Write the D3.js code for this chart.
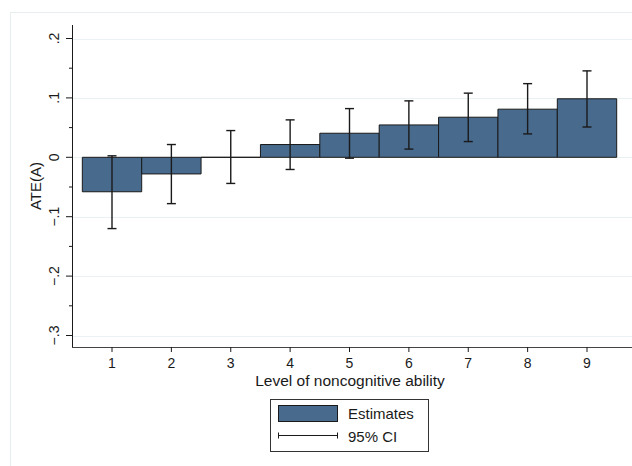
<!DOCTYPE html>
<html>
<head>
<meta charset="utf-8">
<script src="https://cdn.jsdelivr.net/npm/d3@7"></script>
<style>
  html, body { margin: 0; padding: 0; background: #fff; }
  svg { display: block; font-family: "Liberation Sans", Arial, Helvetica, sans-serif; }
</style>
</head>
<body>
<svg id="chart" width="632" height="466"></svg>
<script>
// Treatment effect estimates by level of noncognitive ability
const levels    = [1, 2, 3, 4, 5, 6, 7, 8, 9];
const estimates = [-0.058, -0.028, 0.0, 0.0215, 0.0405, 0.0545, 0.0675, 0.081, 0.0985];
const ciLower   = [-0.120, -0.078, -0.044, -0.0205, -0.0015, 0.0138, 0.0265, 0.0394, 0.051];
const ciUpper   = [0.0025, 0.0215, 0.045, 0.063, 0.082, 0.095, 0.108, 0.124, 0.1455];
const yTicks    = [-0.3, -0.2, -0.1, 0, 0.1, 0.2];
const yMinor    = [-0.25, -0.15, -0.05, 0.05, 0.15];
const yTickLabels = ["\u2212.3", "\u2212.2", "\u2212.1", "0", ".1", ".2"];

const svg = d3.select("#chart");

const barFill = "#476a8d";
const ink = "#1a1a1a";

// outer graph region border
svg.append("rect")
  .attr("x", 10.5).attr("y", 12.5)
  .attr("width", 640).attr("height", 470)
  .attr("fill", "none").attr("stroke", "#e6eef0").attr("stroke-width", 1);

const plot = { left: 72, right: 640, top: 25, bottom: 347 };

const x = d3.scaleLinear().domain([1, 9]).range([112, 587]);
const y = d3.scaleLinear().domain([-0.3, 0.2]).range([335.5, 38.5]);
const halfW = (x(2) - x(1)) / 2;

// gridlines
svg.append("g").selectAll("line")
  .data(yTicks).join("line")
  .attr("x1", plot.left).attr("x2", plot.right)
  .attr("y1", d => Math.round(y(d)) + 0.5).attr("y2", d => Math.round(y(d)) + 0.5)
  .attr("stroke", "#eaf1f2").attr("stroke-width", 1.2);

// bars: drawn as closed outlines so a zero estimate still shows its edge
svg.append("g").selectAll("path")
  .data(levels).join("path")
  .attr("d", (d, i) => {
    const x0 = x(d) - halfW, x1 = x(d) + halfW;
    const y0 = y(0), y1 = y(estimates[i]);
    return `M${x0},${y0}L${x0},${y1}L${x1},${y1}L${x1},${y0}Z`;
  })
  .attr("fill", barFill)
  .attr("stroke", ink).attr("stroke-width", 1);

// confidence intervals
const capW = 4.5;
const ci = svg.append("g").attr("stroke", ink).attr("stroke-width", 1.4);
levels.forEach((d, i) => {
  const cx = x(d);
  ci.append("line").attr("x1", cx).attr("x2", cx)
    .attr("y1", y(ciLower[i])).attr("y2", y(ciUpper[i]));
  ci.append("line").attr("x1", cx - capW).attr("x2", cx + capW)
    .attr("y1", y(ciLower[i])).attr("y2", y(ciLower[i]));
  ci.append("line").attr("x1", cx - capW).attr("x2", cx + capW)
    .attr("y1", y(ciUpper[i])).attr("y2", y(ciUpper[i]));
});

// y axis
const yAxis = svg.append("g");
yAxis.append("line")
  .attr("x1", plot.left + 0.5).attr("x2", plot.left + 0.5)
  .attr("y1", plot.top).attr("y2", plot.bottom)
  .attr("stroke", ink).attr("stroke-width", 1);
yAxis.selectAll("line.major").data(yTicks).join("line").attr("class", "major")
  .attr("x1", plot.left - 6).attr("x2", plot.left)
  .attr("y1", d => y(d)).attr("y2", d => y(d))
  .attr("stroke", ink);
yAxis.selectAll("line.minor").data(yMinor).join("line").attr("class", "minor")
  .attr("x1", plot.left - 3).attr("x2", plot.left)
  .attr("y1", d => y(d)).attr("y2", d => y(d))
  .attr("stroke", ink);
yAxis.selectAll("text").data(yTicks).join("text")
  .attr("transform", d => `translate(${plot.left - 13},${y(d)}) rotate(-90)`)
  .attr("text-anchor", "middle")
  .attr("font-size", 14).attr("fill", ink)
  .text((d, i) => yTickLabels[i]);

svg.append("text")
  .attr("transform", `translate(41,${(plot.top + plot.bottom) / 2}) rotate(-90)`)
  .attr("text-anchor", "middle")
  .attr("font-size", 15).attr("fill", ink)
  .text("ATE(A)");

// x axis
const xAxis = svg.append("g");
xAxis.append("line")
  .attr("x1", plot.left).attr("x2", plot.right)
  .attr("y1", plot.bottom + 0.5).attr("y2", plot.bottom + 0.5)
  .attr("stroke", "#444").attr("stroke-width", 1);
xAxis.selectAll("line.tick").data(levels).join("line").attr("class", "tick")
  .attr("x1", d => x(d)).attr("x2", d => x(d))
  .attr("y1", plot.bottom).attr("y2", plot.bottom + 5)
  .attr("stroke", ink);
xAxis.selectAll("text").data(levels).join("text")
  .attr("x", d => x(d)).attr("y", 367.5)
  .attr("text-anchor", "middle")
  .attr("font-size", 14).attr("fill", ink)
  .text(d => d);

svg.append("text")
  .attr("x", 350).attr("y", 386)
  .attr("text-anchor", "middle")
  .attr("font-size", 15.5).attr("fill", ink)
  .text("Level of noncognitive ability");

// legend
const lg = svg.append("g");
lg.append("rect")
  .attr("x", 270.5).attr("y", 399.5).attr("width", 158).attr("height", 52)
  .attr("fill", "#fff").attr("stroke", "#333").attr("stroke-width", 1);
lg.append("rect")
  .attr("x", 278.5).attr("y", 405.5).attr("width", 59).attr("height", 16)
  .attr("fill", barFill).attr("stroke", ink).attr("stroke-width", 1);
lg.append("text").attr("x", 348).attr("y", 419)
  .attr("font-size", 15).attr("fill", ink).text("Estimates");
lg.append("line").attr("x1", 278).attr("x2", 338).attr("y1", 435.5).attr("y2", 435.5)
  .attr("stroke", ink).attr("stroke-width", 1.2);
lg.append("line").attr("x1", 278.5).attr("x2", 278.5).attr("y1", 432.5).attr("y2", 438.5)
  .attr("stroke", ink).attr("stroke-width", 1);
lg.append("line").attr("x1", 337.5).attr("x2", 337.5).attr("y1", 432.5).attr("y2", 438.5)
  .attr("stroke", ink).attr("stroke-width", 1);
lg.append("text").attr("x", 348).attr("y", 441.5)
  .attr("font-size", 15).attr("fill", ink).text("95% CI");
</script>
</body>
</html>
